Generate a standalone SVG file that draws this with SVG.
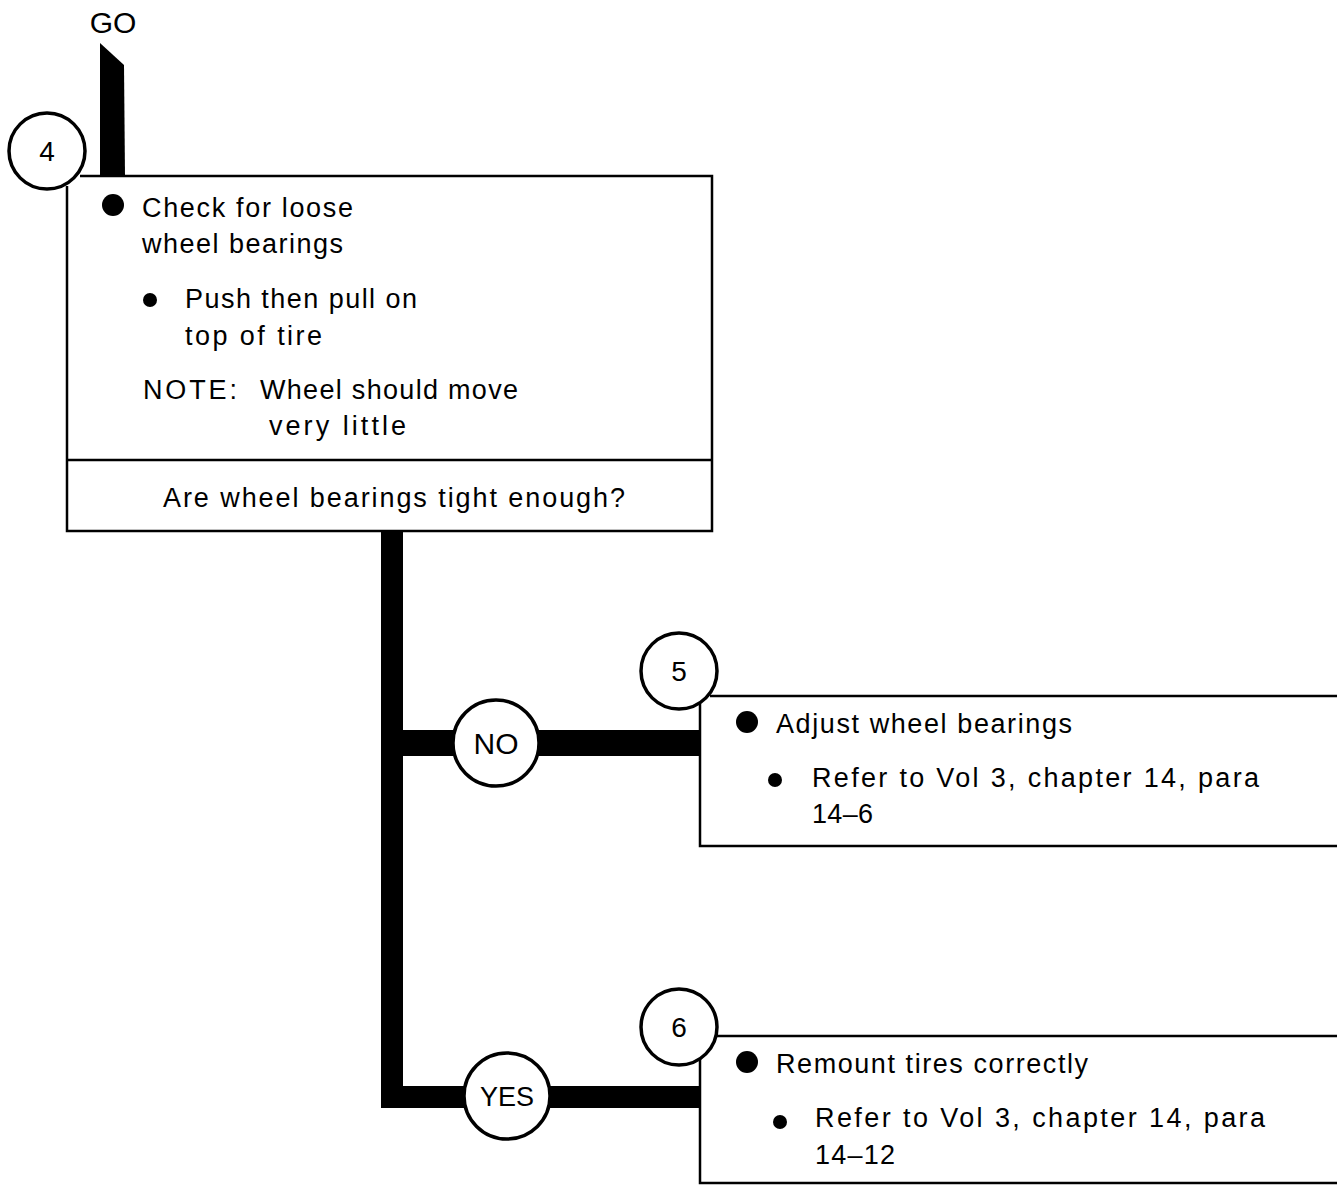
<svg xmlns="http://www.w3.org/2000/svg" width="1337" height="1185" viewBox="0 0 1337 1185">
<style>
text{font-family:"Liberation Sans",Arial,sans-serif;font-size:27px;fill:#000}
.c{text-anchor:middle}
.box{fill:none;stroke:#000;stroke-width:2.5}
.circ{fill:#fff;stroke:#000;stroke-width:3.5}
.bar{fill:#000}
</style>
<rect width="1337" height="1185" fill="#fff"/>
<g id="connectors">
<polygon class="bar" points="100,43 124,65 125,177 100,177"/>
<rect class="bar" x="381" y="531" width="22" height="577"/>
<rect class="bar" x="381" y="730" width="319" height="26"/>
<rect class="bar" x="381" y="1086" width="319" height="22"/>
</g>
<g id="go"><text class="c" x="113" y="33" style="font-size:30px">GO</text></g>
<g id="step4">
<polyline class="box" points="67,186 67,531 712,531 712,176 80,176"/>
<line class="box" x1="67" y1="460" x2="712" y2="460"/>
<circle class="circ" cx="47" cy="151" r="38"/>
<text class="c" x="47" y="161" style="font-size:28px">4</text>
<circle cx="113" cy="205" r="11"/>
<text x="142" y="217" textLength="211" lengthAdjust="spacing">Check for loose</text>
<text x="142" y="253" textLength="201" lengthAdjust="spacing">wheel bearings</text>
<circle cx="150" cy="300" r="7"/>
<text x="185" y="308" textLength="232" lengthAdjust="spacing">Push then pull on</text>
<text x="185" y="345" textLength="137" lengthAdjust="spacing">top of tire</text>
<text x="143" y="399" textLength="94" lengthAdjust="spacing">NOTE:</text>
<text x="260" y="399" textLength="258" lengthAdjust="spacing">Wheel should move</text>
<text x="269" y="435" textLength="137" lengthAdjust="spacing">very little</text>
<text x="163" y="507" textLength="462" lengthAdjust="spacing">Are wheel bearings tight enough?</text>
</g>
<g id="no"><circle class="circ" cx="496" cy="743" r="43"/><text class="c" x="496" y="754" style="font-size:30px">NO</text></g>
<g id="yes"><circle class="circ" cx="507" cy="1096" r="43"/><text class="c" x="507" y="1106" style="font-size:27px">YES</text></g>
<g id="step5">
<polyline class="box" points="710,696 1337,696"/>
<polyline class="box" points="700,704 700,846 1337,846"/>
<circle class="circ" cx="679" cy="671" r="38"/>
<text class="c" x="679" y="681" style="font-size:28px">5</text>
<circle cx="747" cy="722" r="11"/>
<text x="776" y="733" textLength="296" lengthAdjust="spacing">Adjust wheel bearings</text>
<circle cx="775" cy="780" r="7"/>
<text x="812" y="787" textLength="447" lengthAdjust="spacing">Refer to Vol 3, chapter 14, para</text>
<text x="812" y="823" textLength="61" lengthAdjust="spacing">14–6</text>
</g>
<g id="step6">
<polyline class="box" points="710,1036 1337,1036"/>
<polyline class="box" points="700,1044 700,1183 1337,1183"/>
<circle class="circ" cx="679" cy="1027" r="38"/>
<text class="c" x="679" y="1037" style="font-size:28px">6</text>
<circle cx="747" cy="1062" r="11"/>
<text x="776" y="1073" textLength="312" lengthAdjust="spacing">Remount tires correctly</text>
<circle cx="780" cy="1122" r="7"/>
<text x="815" y="1127" textLength="450" lengthAdjust="spacing">Refer to Vol 3, chapter 14, para</text>
<text x="815" y="1164" textLength="80" lengthAdjust="spacing">14–12</text>
</g>
</svg>
